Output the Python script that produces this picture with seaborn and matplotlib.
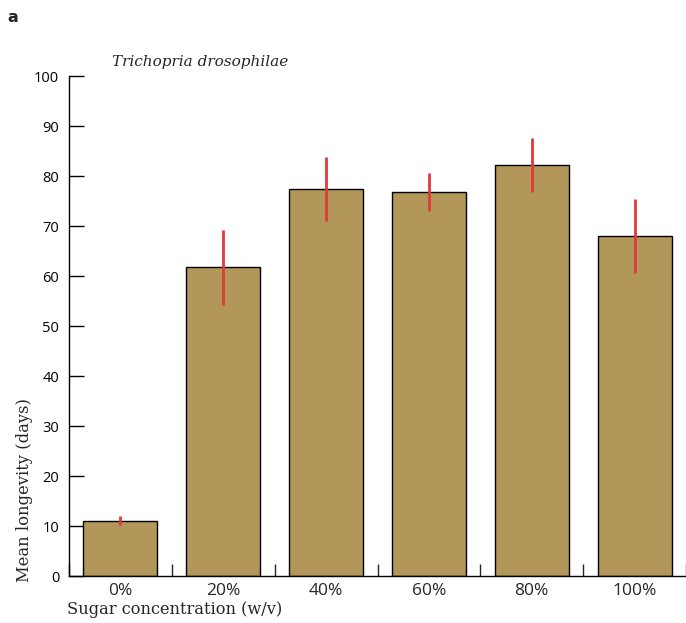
import matplotlib
matplotlib.use("Agg")
import matplotlib.pyplot as plt
import seaborn as sns
import pandas as pd
import numpy as np

# Mean adult longevity of Trichopria drosophilae by sugar concentration
concentrations = ["0%", "20%", "40%", "60%", "80%", "100%"]
mean_longevity = [11.1, 61.8, 77.5, 76.8, 82.3, 68.0]
sem_longevity = [0.9, 7.5, 6.4, 3.75, 5.4, 7.4]

df = pd.DataFrame({"concentration": concentrations, "longevity": mean_longevity})

sns.set_theme(style="ticks")
plt.rcParams["font.family"] = ["Open Sans", "DejaVu Sans"]

fig = plt.figure(figsize=(6.86, 6.23), dpi=100)
ax = fig.add_axes([69 / 686, 47 / 623, 1 - 69 / 686, 500 / 623])

sns.barplot(data=df, x="concentration", y="longevity", color="#b39659",
            saturation=1, width=0.72, edgecolor="black", linewidth=1.0,
            errorbar=None, ax=ax)

xpos = np.arange(len(concentrations))
ax.errorbar(xpos, mean_longevity, yerr=sem_longevity, fmt="none",
            ecolor="#e03a3a", elinewidth=2.0, capsize=0, zorder=5)

ax.set_xlim(-0.5, len(concentrations) - 0.5)
ax.set_ylim(0, 100)
ax.set_yticks(np.arange(0, 101, 10))
ax.tick_params(axis="y", direction="in", length=11, width=1.0, pad=7,
               labelsize=10.5, colors="black")
ax.tick_params(axis="x", which="major", length=0, pad=5, labelsize=12.5)
ax.set_xticks(np.arange(len(concentrations) + 1) - 0.5, minor=True)
ax.tick_params(axis="x", which="minor", direction="in", length=9, width=1.0)

sns.despine(ax=ax)
for side in ("left", "bottom"):
    ax.spines[side].set_linewidth(1.0)
    ax.spines[side].set_color("black")

ax.set_xlabel("")
ax.set_ylabel("")
fig.text(67 / 686, 1 - 610 / 623, "Sugar concentration (w/v)",
         family="DejaVu Serif", fontsize=11.7, ha="left", va="center")
fig.text(24.5 / 686, 1 - 490 / 623, "Mean longevity (days)",
         family="DejaVu Serif", fontsize=11.8, rotation=90,
         ha="center", va="center")
fig.text(112 / 686, 1 - 62 / 623, "Trichopria drosophilae",
         family="DejaVu Serif", style="italic", fontsize=11, ha="left",
         va="center")
fig.text(7 / 686, 1 - 18 / 623, "a", family="DejaVu Sans",
         fontweight="bold", fontsize=11.5, ha="left", va="center")

fig.savefig("out.png", dpi=100)
